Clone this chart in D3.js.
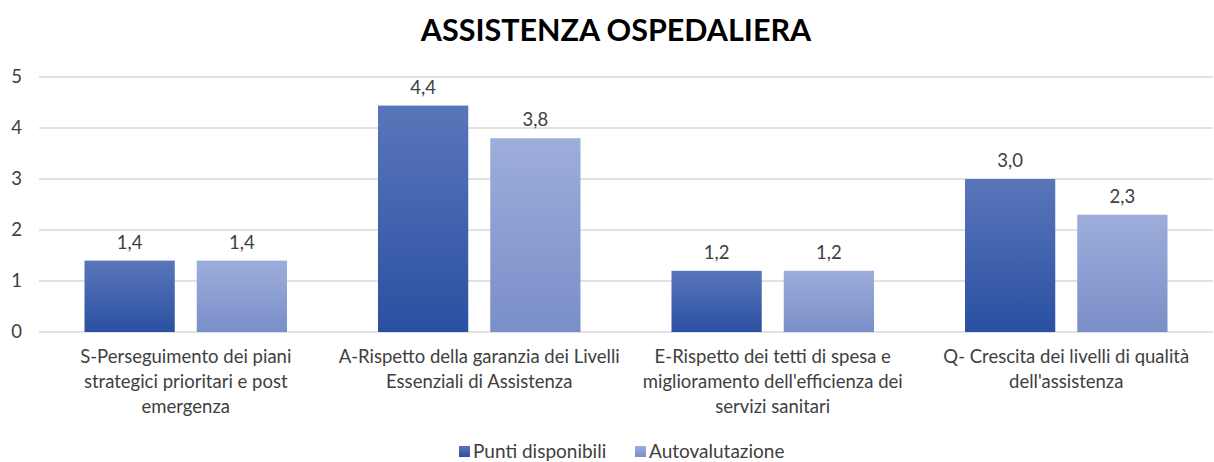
<!DOCTYPE html>
<html>
<head>
<meta charset="utf-8">
<script src="https://cdn.jsdelivr.net/npm/d3@7"></script>
<style>
  body { margin: 0; background: #fff; }
  text { font-family: Lato, "Open Sans", sans-serif; fill: #404040; }
</style>
</head>
<body>
<svg id="chart" width="1214" height="462"></svg>
<script>
// chart data
const categories = [
  ["S-Perseguimento dei piani", "strategici prioritari e post", "emergenza"],
  ["A-Rispetto della garanzia dei Livelli", "Essenziali di Assistenza"],
  ["E-Rispetto dei tetti di spesa e", "miglioramento dell'efficienza dei", "servizi sanitari"],
  ["Q- Crescita dei livelli di qualità", "dell'assistenza"]
];
const seriesNames = ["Punti disponibili", "Autovalutazione"];
const puntiDisponibili = [1.4, 4.44, 1.2, 3.0];
const autovalutazione = [1.4, 3.8, 1.2, 2.3];
const yTicks = [0, 1, 2, 3, 4, 5];

const margin = { top: 77, right: 1, bottom: 130, left: 39 },
  width = 1214 - margin.left - margin.right,
  height = 462 - margin.top - margin.bottom;

const svg = d3.select("#chart");

// gradients for the bars
const defs = svg.append("defs");
const grads = [["g0", "#5a76ba", "#2a50a2"], ["g1", "#9daedb", "#7a8ec8"]];
grads.forEach(function (g) {
  const lg = defs.append("linearGradient").attr("id", g[0])
    .attr("x1", 0).attr("y1", 0).attr("x2", 0).attr("y2", 1);
  lg.append("stop").attr("offset", "0%").attr("stop-color", g[1]);
  lg.append("stop").attr("offset", "100%").attr("stop-color", g[2]);
});

svg.append("text")
  .attr("x", 616).attr("y", 41)
  .attr("text-anchor", "middle")
  .style("font-size", "30.5px").style("font-weight", "bold")
  .style("fill", "#000")
  .text("ASSISTENZA OSPEDALIERA");

const g = svg.append("g")
  .attr("transform", "translate(" + margin.left + "," + margin.top + ")");

const x0 = d3.scaleBand().domain(d3.range(categories.length))
  .range([0, width]).paddingInner(0.31).paddingOuter(0.155);
const x1 = d3.scaleBand().domain([0, 1])
  .range([0, x0.bandwidth()]).paddingInner(0.196);
const y = d3.scaleLinear().domain([0, 5]).range([height, 0]);

// gridlines
g.selectAll(".grid").data(yTicks).enter().append("line")
  .attr("x1", 0).attr("x2", width)
  .attr("y1", d => y(d)).attr("y2", d => y(d))
  .attr("stroke", "#d9d9d9").attr("stroke-width", 1.3);

// y axis labels
const yAxis = d3.axisLeft(y).tickValues(yTicks).tickFormat(d3.format("d"))
  .tickSize(0).tickPadding(17);
g.append("g").call(yAxis)
  .call(s => s.select(".domain").remove())
  .selectAll("text").style("font-size", "18.5px").attr("fill", "#404040");

const rows = puntiDisponibili.map((v, i) => [v, autovalutazione[i]]);

const groups = g.selectAll(".grp").data(rows).enter().append("g")
  .attr("transform", (d, i) => "translate(" + x0(i) + ",0)");

groups.selectAll("rect").data(d => d).enter().append("rect")
  .attr("x", (d, j) => x1(j))
  .attr("y", d => y(d))
  .attr("width", x1.bandwidth())
  .attr("height", d => height - y(d))
  .attr("fill", (d, j) => "url(#g" + j + ")");

groups.selectAll(".lbl").data(d => d).enter().append("text")
  .attr("class", "lbl")
  .attr("x", (d, j) => x1(j) + x1.bandwidth() / 2)
  .attr("y", d => y(d) - 12)
  .attr("text-anchor", "middle")
  .style("font-size", "18.5px")
  .text(d => d3.format(".1f")(d).replace(".", ","));

// category labels
g.selectAll(".cat").data(categories).enter().append("text")
  .attr("class", "cat")
  .attr("x", (d, i) => x0(i) + x0.bandwidth() / 2)
  .attr("y", height + 31)
  .attr("text-anchor", "middle")
  .style("font-size", "18.5px")
  .selectAll("tspan").data(d => d).enter().append("tspan")
  .attr("x", function () { return d3.select(this.parentNode).attr("x"); })
  .attr("dy", (d, k) => k === 0 ? 0 : 25)
  .text(d => d);

// legend
const legend = svg.append("g");
const legX = [459, 635];
seriesNames.forEach(function (name, i) {
  legend.append("rect")
    .attr("x", legX[i]).attr("y", 446)
    .attr("width", 11).attr("height", 11)
    .attr("fill", "url(#g" + i + ")");
  legend.append("text")
    .attr("x", legX[i] + 14).attr("y", 458)
    .style("font-size", "19px")
    .text(name);
});
</script>
</body>
</html>
